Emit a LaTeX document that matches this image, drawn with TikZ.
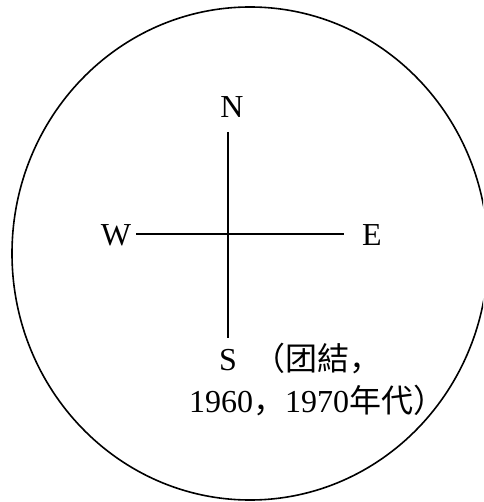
\documentclass[tikz,border=0pt]{standalone}
\usepackage{fontspec}
\setmainfont{Liberation Serif}
\newfontfamily\cjk{Noto Sans CJK SC}
\begin{document}
\begin{tikzpicture}[x=1pt,y=-1pt,
  lbl/.style={inner sep=0pt,font=\fontsize{32}{38}\selectfont},
  axis/.style={line width=1.4pt},
  rim/.style={line width=1.6pt}]
\useasboundingbox (0,0) rectangle (483,502);
\clip (0,0) rectangle (483,502);
\draw[rim] (250,253.5) ellipse [x radius=238, y radius=246.5];
\node[lbl,anchor=base] (N) at (232,118) {N};
\node[lbl,anchor=base] (W) at (116,245) {W};
\node[lbl,anchor=base] (E) at (372,245) {E};
\node[lbl,anchor=base] (S) at (228,370.5) {S};
\node[lbl,anchor=base west] (t1) at (253,370.5) {\cjk （团結，};
\node[lbl,anchor=base west] (t2) at (189,412) {1960\cjk ，\rmfamily 1970\cjk 年代）};
\coordinate (n1) at (228,132);
\coordinate (s1) at (228,338);
\coordinate (w1) at (136,234);
\coordinate (e1) at (344,234);
\draw[axis] (n1) -- (s1);
\draw[axis] (w1) -- (e1);
\end{tikzpicture}
\end{document}
